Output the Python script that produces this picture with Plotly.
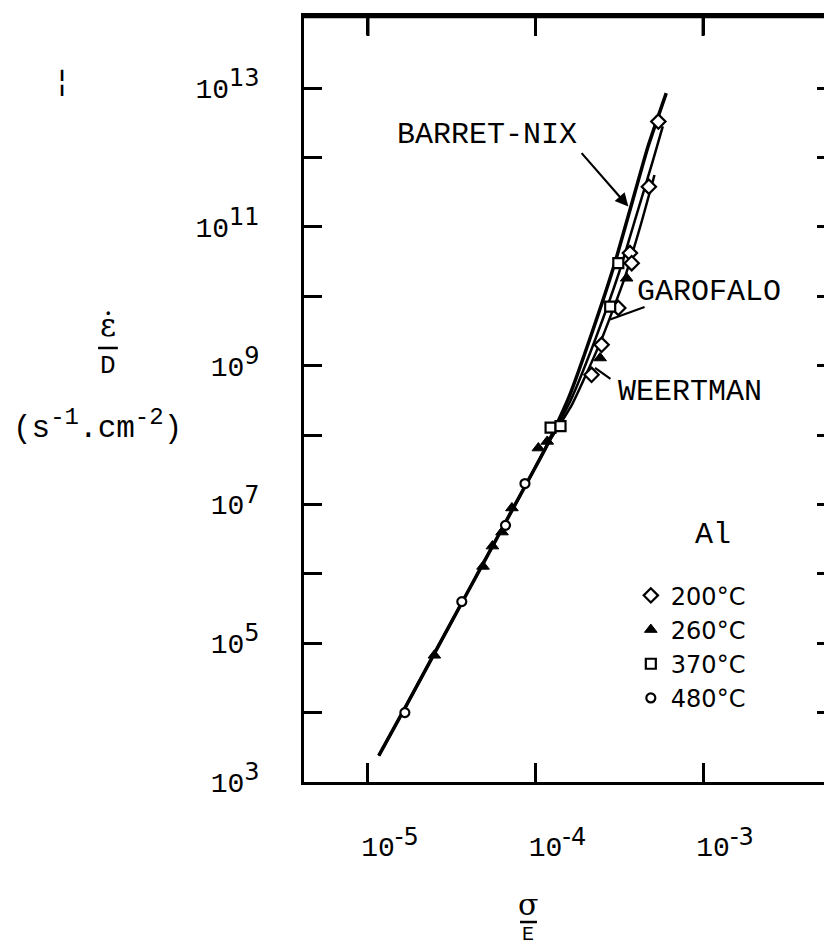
import plotly.graph_objects as go

# ---------------- data (sigma/E , strain-rate/D) ----------------
shared_x = [1.16e-5, 1.66e-5, 2.51e-5, 3.98e-5, 6.31e-5, 1.0e-4, 1.17e-4]
shared_y = [2.4e3, 1.16e4, 7.4e4, 5.75e5, 4.47e6, 3.47e7, 7.1e7]

barrett_x = [1.585e-4, 2.19e-4, 2.95e-4, 3.72e-4, 4.68e-4, 6.03e-4]
barrett_y = [3.55e8, 3.16e9, 2.82e10, 2.0e11, 1.41e12, 8.5e12]

garofalo_x = [1.62e-4, 2.29e-4, 3.16e-4, 3.98e-4, 5.01e-4, 5.75e-4]
garofalo_y = [3.16e8, 2.51e9, 2.24e10, 1.41e11, 8.9e11, 2.82e12]

weertman_x = [1.66e-4, 2.45e-4, 3.39e-4, 4.27e-4, 5.13e-4]
weertman_y = [2.82e8, 2.24e9, 1.78e10, 1.12e11, 5.6e11]

t200_x = [2.16e-4, 2.48e-4, 3.12e-4, 3.66e-4, 3.75e-4, 4.75e-4, 5.41e-4]
t200_y = [7.4e8, 2.0e9, 6.8e9, 4.2e10, 3.0e10, 3.8e11, 3.3e12]

t260_x = [2.49e-5, 4.86e-5, 5.53e-5, 6.31e-5, 7.23e-5, 1.04e-4, 1.175e-4, 2.43e-4, 3.50e-4]
t260_y = [6.7e4, 1.28e6, 2.51e6, 4.0e6, 8.9e6, 6.5e7, 8.1e7, 1.29e9, 1.82e10]

t370_x = [1.23e-4, 1.41e-4, 2.79e-4, 3.12e-4]
t370_y = [1.28e8, 1.35e8, 7.1e9, 3.0e10]

t480_x = [1.66e-5, 3.63e-5, 6.62e-5, 8.65e-5]
t480_y = [1.0e4, 3.98e5, 5.0e6, 2.0e7]

series_names = ["200°C", "260°C", "370°C", "480°C"]

x_tick_exps = [-5, -4, -3]
y_tick_exps = [3, 4, 5, 6, 7, 8, 9, 10, 11, 12, 13]
y_label_exps = [3, 5, 7, 9, 11, 13]

X_RANGE = [-5.382, -2.278]
Y_RANGE = [3, 14.04]

MONO = "Liberation Mono"
SANS = "DejaVu Sans"
PLOT_H = 945 - 16 - 163
DECADE_PX = PLOT_H / (Y_RANGE[1] - Y_RANGE[0])


def pow_label(e):
    return ("10<sup><span style='font-family:DejaVu Sans;font-size:24px'>%d</span></sup>" % e)


fig = go.Figure()

for cx, cy, w in [(barrett_x, barrett_y, 3.5), (garofalo_x, garofalo_y, 2.5),
                  (weertman_x, weertman_y, 2.5)]:
    fig.add_trace(go.Scatter(x=shared_x + cx, y=shared_y + cy, mode="lines",
                             line=dict(color="black", width=w, shape="spline", smoothing=0.5),
                             showlegend=False, hoverinfo="skip"))

marker_styles = [
    dict(symbol="diamond", size=11, color="white", line=dict(color="black", width=2.2)),
    dict(symbol="triangle-up", size=11, color="black", line=dict(color="black", width=1)),
    dict(symbol="square", size=10, color="white", line=dict(color="black", width=2.2)),
    dict(symbol="circle", size=9, color="white", line=dict(color="black", width=2.2)),
]
for (sx, sy), name, ms in zip([(t200_x, t200_y), (t260_x, t260_y), (t370_x, t370_y), (t480_x, t480_y)],
                              series_names, marker_styles):
    fig.add_trace(go.Scatter(x=sx, y=sy, mode="markers", name=name, marker=ms))

# transparent copy on the right frame axis so that its tick stubs get drawn
fig.add_trace(go.Scatter(x=t480_x, y=t480_y, mode="markers", xaxis="x", yaxis="y2",
                         marker=dict(opacity=0), showlegend=False, hoverinfo="skip"))

# top-frame tick stubs at the bottom-axis decades (derived from the tick list)
top_y_hi = 10.0 ** Y_RANGE[1]
top_y_lo = 10.0 ** (Y_RANGE[1] - 20.0 / DECADE_PX)
tick_x, tick_y = [], []
for e in x_tick_exps:
    tick_x += [10.0 ** e, 10.0 ** e, None]
    tick_y += [top_y_hi, top_y_lo, None]
fig.add_trace(go.Scatter(x=tick_x, y=tick_y, mode="lines", line=dict(color="black", width=3),
                         showlegend=False, hoverinfo="skip", cliponaxis=False))

ann = []
def txt(x, y, t, size=30, font=MONO, ref="data"):
    r = dict(xref="x", yref="y") if ref == "data" else dict(xref="paper", yref="paper")
    ann.append(dict(x=x, y=y, text=t, showarrow=False, font=dict(family=font, size=size, color="black"),
                    xanchor="center", yanchor="middle", **r))

def pointer(x, y, ax, ay, head):
    ann.append(dict(x=x, y=y, ax=ax, ay=ay, text="", showarrow=True, arrowhead=head,
                    arrowsize=1.2, arrowwidth=2.2, arrowcolor="black", xref="x", yref="y"))

txt(-4.290, 12.33, "BARRET-NIX")
txt(-2.962, 10.06, "GAROFALO")
txt(-3.078, 8.615, "WEERTMAN")
txt(-2.940, 6.56, "Al")
pointer(-3.446, 11.293, -48, -55, 2)
pointer(-3.555, 9.667, 36, -13, 0)
pointer(-3.645, 8.968, 17, 12, 0)

txt(-0.3769, 0.596, "ε̇", size=31, font="DejaVu Serif", ref="paper")
txt(-0.3769, 0.543, "D", size=26, font=MONO, ref="paper")
txt(-0.398, 0.466, "(s<sup><span style='font-size:24px'>-1</span></sup>.cm<sup><span style='font-size:24px'>-2</span></sup>)",
    size=31, font=MONO, ref="paper")
txt(-0.465, 0.916, "¦", size=30, font=SANS, ref="paper")
txt(0.4308, -0.160, "σ", size=30, font="DejaVu Serif", ref="paper")
txt(0.4308, -0.1985, "E", size=20, font=MONO, ref="paper")

shapes = [
    dict(type="line", xref="paper", yref="paper", x0=-0.396, x1=-0.358, y0=0.5666, y1=0.5666,
         line=dict(color="black", width=2.5)),
    dict(type="line", xref="paper", yref="paper", x0=0.4154, x1=0.448, y0=-0.1828, y1=-0.1828,
         line=dict(color="black", width=2.5)),
    # top frame line
    dict(type="line", xref="paper", yref="paper", x0=-0.003, x1=1.0, y0=0.999, y1=0.999,
         line=dict(color="black", width=3)),
]

fig.update_layout(
    width=824, height=945, autosize=False,
    margin=dict(l=304, r=0, t=16, b=163, pad=0),
    paper_bgcolor="white", plot_bgcolor="white",
    annotations=ann, shapes=shapes,
    xaxis=dict(type="log", range=X_RANGE,
               tickvals=[10.0 ** e for e in x_tick_exps],
               ticktext=[pow_label(e) for e in x_tick_exps],
               ticks="inside", ticklen=19, tickwidth=2.5, tickcolor="black",
               showline=True, linewidth=2.5, linecolor="black", mirror="ticks",
               showgrid=False, zeroline=False,
               tickfont=dict(family=MONO, size=28, color="black"),
               ticklabelshift=22, ticklabelstandoff=38),
    yaxis=dict(type="log", range=Y_RANGE,
               tickvals=[10.0 ** e for e in y_tick_exps],
               ticktext=[pow_label(e) if e in y_label_exps else "" for e in y_tick_exps],
               ticks="inside", ticklen=18, tickwidth=2.5, tickcolor="black",
               showline=True, linewidth=2.5, linecolor="black", mirror=False,
               showgrid=False, zeroline=False,
               tickfont=dict(family=MONO, size=28, color="black"),
               ticklabelstandoff=36),
    yaxis2=dict(type="log", range=Y_RANGE, overlaying="y", side="right", anchor="x",
                tickvals=[10.0 ** e for e in y_tick_exps[1:]],
                ticks="inside", ticklen=7, tickwidth=3, tickcolor="black",
                showline=False, showticklabels=False, showgrid=False, zeroline=False),
    showlegend=True,
    legend=dict(x=0.6285, y=0.2725, xanchor="left", yanchor="top",
                font=dict(family=SANS, size=24, color="black"),
                bgcolor="rgba(0,0,0,0)", borderwidth=0, tracegroupgap=0),
)

fig.write_html("out.html", config={"displayModeBar": False})
